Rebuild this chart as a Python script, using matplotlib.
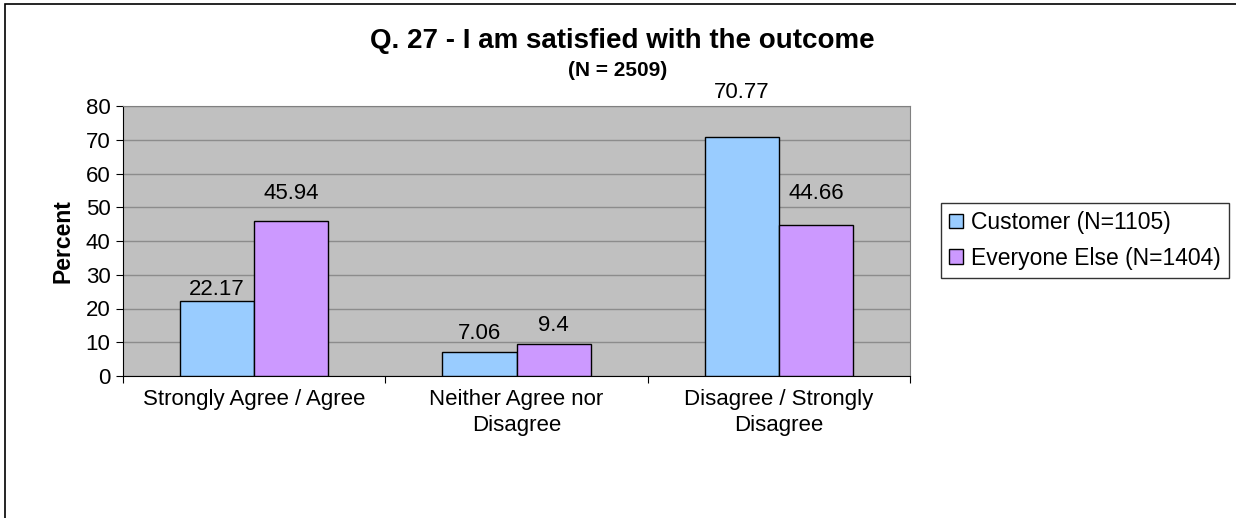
import numpy as np
import matplotlib.pyplot as plt
from matplotlib.patches import Rectangle

plt.rcParams['font.family'] = ['Liberation Sans', 'DejaVu Sans']

categories = ["Strongly Agree / Agree", "Neither Agree nor\nDisagree", "Disagree / Strongly\nDisagree"]
series_names = ["Customer (N=1105)", "Everyone Else (N=1404)"]
customer = [22.17, 7.06, 70.77]
everyone_else = [45.94, 9.4, 44.66]
colors = ["#99CCFF", "#CC99FF"]
# gap in pixels between each value label and its bar top, as placed in the original
label_gaps = [[6, 13, 39], [22, 13, 26]]

fig = plt.figure(figsize=(12.36, 5.18), dpi=100)
ax = fig.add_axes([123 / 1236, 1 - 376 / 518, 787 / 1236, 270 / 518])

# outer chart border
fig.patches.append(Rectangle((5 / 1236, -0.01), 1.0, 1 - 4 / 518 + 0.01, transform=fig.transFigure,
                             fill=False, edgecolor="black", linewidth=1.2))

x = np.arange(len(categories))
w = 0.283
for i, (vals, name) in enumerate(zip([customer, everyone_else], series_names)):
    pos = x + (i - 0.5) * w
    bars = ax.bar(pos, vals, w, color=colors[i], edgecolor="black", linewidth=1, label=name, zorder=3)
    for b, v, g in zip(bars, vals, label_gaps[i]):
        ax.annotate(f"{v:g}", (b.get_x() + b.get_width() / 2, v), xytext=(0, g * 0.72),
                    textcoords="offset points", ha="center", va="baseline", fontsize=16, zorder=4)

ax.set_facecolor("#C0C0C0")
ax.set_xlim(-0.5, 2.5)
ax.set_ylim(0, 80)
ax.set_yticks(range(0, 81, 10))
ax.yaxis.grid(True, color="#8C8C8C", linewidth=1, zorder=0)
ax.tick_params(axis="y", labelsize=16, length=5, direction="out", pad=4)
ax.set_xticks([-0.5, 0.5, 1.5, 2.5])
ax.set_xticklabels([])
ax.set_xticks(x, minor=True)
ax.set_xticklabels(categories, minor=True, fontsize=16, linespacing=1.35)
ax.tick_params(axis="x", which="minor", length=0, pad=9)
ax.tick_params(axis="x", which="major", length=5, direction="out")
for s in ["top", "right"]:
    ax.spines[s].set_color("#808080")
for s in ["left", "bottom"]:
    ax.spines[s].set_color("black")
ax.set_ylabel("Percent", fontsize=16.5, fontweight="bold", labelpad=8)

fig.text(622 / 1236, 1 - 41 / 518, "Q. 27 - I am satisfied with the outcome",
         ha="center", va="center", fontsize=20, fontweight="bold")
fig.text(618 / 1236, 1 - 70 / 518, "(N = 2509)", ha="center", va="center", fontsize=15, fontweight="bold")

leg = fig.legend(loc="upper left", bbox_to_anchor=(941 / 1236, 1 - 203 / 518), fontsize=16.5,
                 frameon=True, fancybox=False, edgecolor="black", handlelength=0.6, handleheight=0.6,
                 handletextpad=0.35, borderpad=0.35, borderaxespad=0, labelspacing=0.55)
leg.get_frame().set_linewidth(1)

fig.savefig("out.png", dpi=100)
